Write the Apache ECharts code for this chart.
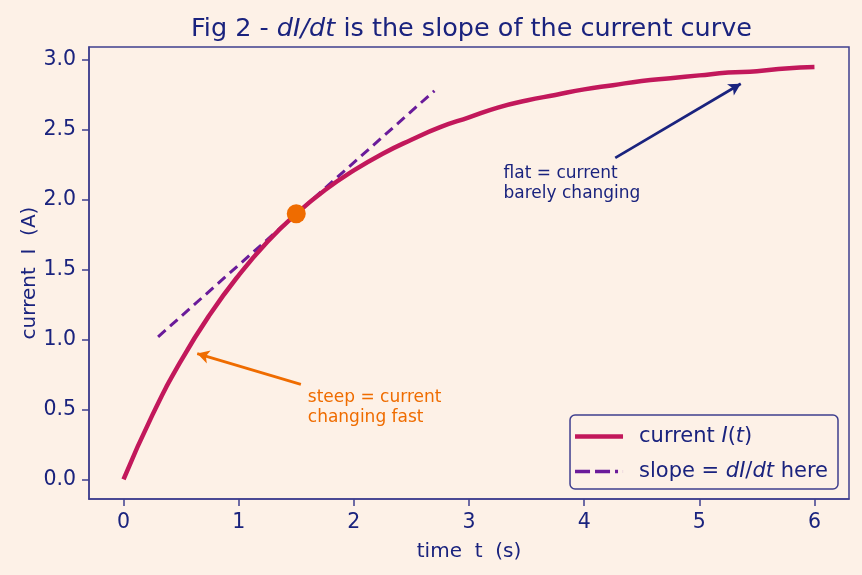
<!DOCTYPE html>
<html>
<head>
<meta charset="utf-8">
<script src="https://cdn.jsdelivr.net/npm/echarts@6/dist/echarts.min.js"></script>
<style>
  html, body { margin: 0; padding: 0; background: #fdf1e7; }
  #main { width: 862px; height: 575px; }
</style>
</head>
<body>
<div id="main"></div>
<script>
// curve
var times = [0, 0.25, 0.5, 0.75, 1.0, 1.25, 1.5, 1.75, 2.0, 2.25, 2.5, 2.75, 3.0,
             3.25, 3.5, 3.75, 4.0, 4.25, 4.5, 4.75, 5.0, 5.25, 5.5, 5.75, 6.0];
var current = [0, 0.46, 0.85, 1.18, 1.46, 1.70, 1.90, 2.07, 2.21, 2.33, 2.43, 2.52, 2.59,
               2.66, 2.71, 2.75, 2.79, 2.82, 2.85, 2.87, 2.89, 2.91, 2.92, 2.94, 2.95];
var slopeT = [0.3, 2.7];
var slopeI = [1.02, 2.78];
var pointT = 1.5;
var pointI = 1.9;
var xTicks = [0, 1, 2, 3, 4, 5, 6];
var yTicks = [0, 0.5, 1.0, 1.5, 2.0, 2.5, 3.0];

var navy = '#1a237e';
var frame = '#3f3f8f';

var curveData = times.map(function (t, i) { return [t, current[i]]; });
var slopeData = slopeT.map(function (t, i) { return [t, slopeI[i]]; });

var myChart = echarts.init(document.getElementById('main'));

var option = {
    backgroundColor: '#fdf1e7',
    animation: false,
    textStyle: { fontFamily: 'DejaVu Sans' },
    title: {
        text: 'Fig 2 - {i|dI/dt} is the slope of the current curve',
        left: 186,
        top: 11,
        textStyle: {
            color: navy,
            fontSize: 25.5,
            fontWeight: 'normal',
            fontFamily: 'DejaVu Sans',
            rich: {
                i: { fontStyle: 'italic', fontSize: 25.5, color: navy, fontFamily: 'DejaVu Sans' }
            }
        }
    },
    grid: {
        left: 89,
        right: 13,
        top: 47,
        bottom: 76,
        show: true,
        borderColor: frame,
        borderWidth: 1.5,
        backgroundColor: 'transparent'
    },
    legend: {
        right: 24,
        bottom: 86,
        orient: 'vertical',
        itemWidth: 48,
        itemHeight: 20,
        itemGap: 14,
        padding: [11, 10, 7, 5],
        backgroundColor: '#fdf1e7',
        borderColor: frame,
        borderWidth: 1.5,
        borderRadius: 5,
        textStyle: {
            color: navy,
            fontSize: 21,
            rich: {
                g: { width: 11 },
                n: { fontSize: 21, color: navy },
                i: { fontStyle: 'italic', fontSize: 21, color: navy }
            }
        },
        formatter: function (name) {
            if (name === 'current') return '{g| }{n|current }{i|I}{n|(}{i|t}{n|)}';
            return '{g| }{n|slope = }{i|dI}{n|/}{i|dt}{n| here}';
        },
        data: [
            { name: 'current', icon: 'path://M0,0h48v4.5h-48z' },
            { name: 'slope', icon: 'path://M0,0h15v3.4h-15z M20,0h15v3.4h-15z M40,0h3v3.4h-3z M47.9,0h0.1v3.4h-0.1z' }
        ]
    },
    xAxis: {
        type: 'value',
        min: -0.3,
        max: 6.3,
        name: 'time  t  (s)',
        nameLocation: 'middle',
        nameGap: 43,
        nameMoveOverlap: false,
        nameTextStyle: { color: navy, fontSize: 20 },
        splitLine: { show: false },
        axisLine: { show: true, onZero: false, lineStyle: { color: frame, width: 1.5 } },
        axisTick: { show: true, length: 7, lineStyle: { color: frame, width: 1.5 }, customValues: xTicks },
        axisLabel: { color: navy, fontSize: 20.5, margin: 13, customValues: xTicks }
    },
    yAxis: {
        type: 'value',
        min: -0.14,
        max: 3.093,
        name: 'current  I  (A)',
        nameLocation: 'middle',
        nameGap: 49,
        nameMoveOverlap: false,
        nameTextStyle: { color: navy, fontSize: 20 },
        splitLine: { show: false },
        axisLine: { show: true, onZero: false, lineStyle: { color: frame, width: 1.5 } },
        axisTick: { show: true, length: 7, lineStyle: { color: frame, width: 1.5 }, customValues: yTicks },
        axisLabel: {
            color: navy, fontSize: 20.5, margin: 13, customValues: yTicks,
            formatter: function (v) { return v.toFixed(1); }
        }
    },
    series: [
        {
            name: 'current',
            type: 'line',
            data: curveData,
            smooth: true,
            showSymbol: false,
            symbol: 'none',
            color: '#c2185b',
            lineStyle: { width: 4.5, color: '#c2185b' },
            z: 3,
            markLine: {
                silent: true,
                symbol: ['none', 'arrow'],
                symbolSize: [10, 12],
                label: { show: false },
                data: [
                    [
                        { coord: [1.54, 0.68], lineStyle: { color: '#ef6c00', width: 2.7, type: 'solid' } },
                        { coord: [0.64, 0.9] }
                    ],
                    [
                        { coord: [4.27, 2.30], lineStyle: { color: navy, width: 2.7, type: 'solid' } },
                        { coord: [5.36, 2.83] }
                    ]
                ]
            }
        },
        {
            name: 'slope',
            type: 'line',
            data: slopeData,
            showSymbol: false,
            symbol: 'none',
            color: '#6a1b9a',
            lineStyle: { width: 3, type: [10, 6], color: '#6a1b9a' },
            z: 2
        },
        {
            name: 'point',
            type: 'scatter',
            data: [[pointT, pointI]],
            symbolSize: 19,
            itemStyle: { color: '#ef6c00', opacity: 1 },
            z: 5
        },
        {
            name: 'notes',
            type: 'scatter',
            symbolSize: 0,
            silent: true,
            itemStyle: { opacity: 1 },
            data: [
                {
                    value: [1.6, 0.4],
                    label: {
                        show: true, position: [0, 0], align: 'left', verticalAlign: 'bottom',
                        formatter: 'steep = current\nchanging fast', offset: [0, 4],
                        color: '#ef6c00', fontSize: 17, lineHeight: 20
                    }
                },
                {
                    value: [3.3, 2.0],
                    label: {
                        show: true, position: [0, 0], align: 'left', verticalAlign: 'bottom',
                        formatter: 'flat = current\nbarely changing', offset: [0, 4],
                        color: navy, fontSize: 17, lineHeight: 20
                    }
                }
            ]
        }
    ]
};
myChart.setOption(option);
window.addEventListener('resize', function () {
    myChart.resize();
});
</script>
</body>
</html>
